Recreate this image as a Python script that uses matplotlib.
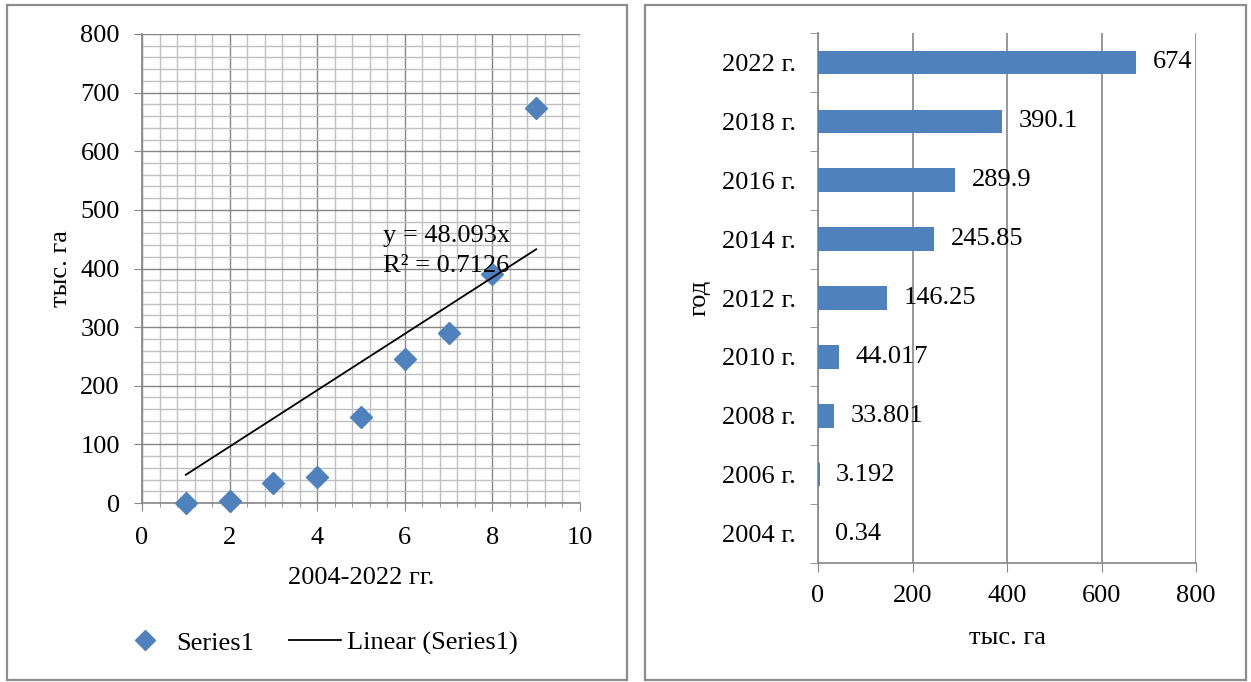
"""Two-panel chart: scatter with linear trend and horizontal bar chart."""

import matplotlib

matplotlib.use("Agg")
import matplotlib.pyplot as plt
from matplotlib.lines import Line2D
from matplotlib.patches import Rectangle
from matplotlib.ticker import MultipleLocator

# data
period_index = [1, 2, 3, 4, 5, 6, 7, 8, 9]
area = [0.34, 3.192, 33.801, 44.017, 146.25, 245.85, 289.9, 390.1, 674]
year_labels = ["2004 г.", "2006 г.", "2008 г.", "2010 г.", "2012 г.",
               "2014 г.", "2016 г.", "2018 г.", "2022 г."]
value_labels = ["0.34", "3.192", "33.801", "44.017", "146.25",
                "245.85", "289.9", "390.1", "674"]
trend_slope = 48.093
trend_r2 = 0.7126

BLUE = "#4F81BD"
MAJOR_GRID = "#868686"
MINOR_GRID = "#BFBFBF"
BORDER = "#8C8C8C"
FS = 19

plt.rcParams["font.family"] = ["Liberation Serif", "DejaVu Serif"]
plt.rcParams["font.size"] = FS

W, H = 1251, 682
fig = plt.figure(figsize=(W / 100, H / 100), dpi=100)


def fx(px):
    return px / W


def fy(py):
    return 1 - py / H


# panel borders
for x0, x1 in [(7, 627), (645, 1246)]:
    fig.patches.append(Rectangle((fx(x0), fy(680)), fx(x1 - x0), (680 - 5) / H,
                                 transform=fig.transFigure, fill=False,
                                 edgecolor=BORDER, linewidth=1.6))

# ---- left panel: scatter + trend ----
ax1 = fig.add_axes([fx(142), fy(503), fx(580 - 142), (503 - 34) / H])
ax1.set_xlim(0, 10)
ax1.set_ylim(0, 800)
ax1.xaxis.set_major_locator(MultipleLocator(2))
ax1.xaxis.set_minor_locator(MultipleLocator(0.4))
ax1.yaxis.set_major_locator(MultipleLocator(100))
ax1.yaxis.set_minor_locator(MultipleLocator(20))
ax1.grid(which="minor", color=MINOR_GRID, linewidth=1.0)
ax1.grid(which="major", color=MAJOR_GRID, linewidth=1.0)
ax1.set_axisbelow(True)
for side in ["top", "right"]:
    ax1.spines[side].set_visible(False)
for side in ["left", "bottom"]:
    ax1.spines[side].set_color(MAJOR_GRID)
    ax1.spines[side].set_linewidth(1.2)
ax1.tick_params(which="major", axis="x", length=5.5, color=MAJOR_GRID, pad=12)
ax1.tick_params(which="minor", axis="x", length=3, color=MAJOR_GRID)
ax1.tick_params(which="major", axis="y", length=6, color=MAJOR_GRID, pad=10)
ax1.tick_params(which="minor", axis="y", length=0)

ax1.plot(period_index, area, linestyle="none", marker="D", markersize=11,
         color=BLUE, zorder=3, clip_on=False)
trend_x = [period_index[0], period_index[-1]]
trend_y = [trend_slope * v for v in trend_x]
ax1.plot(trend_x, trend_y, color="black", linewidth=1.3, zorder=4)
ax1.text(5.5, 474, f"y = {trend_slope}x\nR² = {trend_r2}", va="top", ha="left",
         fontsize=FS, linespacing=1.45, zorder=5)

ax1.set_xlabel("2004-2022 гг.", labelpad=13)
ax1.set_ylabel("тыс. га", labelpad=6)

handles = [
    Line2D([], [], linestyle="none", marker="D", markersize=10, color=BLUE),
    Line2D([], [], color="black", linewidth=1.3),
]
fig.legend(handles, ["Series1", "Linear (Series1)"], loc="center",
           bbox_to_anchor=(fx(318), fy(643)), ncol=2, frameon=False,
           handlelength=2.0, columnspacing=1.3, handletextpad=0.2,
           borderpad=0, borderaxespad=0)

# ---- right panel: horizontal bars ----
ax2 = fig.add_axes([fx(818), fy(563), fx(1196 - 818), (563 - 33) / H])
pos = list(range(len(year_labels)))
bars = ax2.barh(pos, area, height=0.4, color=BLUE, zorder=3)
ax2.set_xlim(0, 800)
ax2.set_ylim(-0.5, len(year_labels) - 0.5)
ax2.xaxis.set_major_locator(MultipleLocator(200))
ax2.set_yticks(pos)
ax2.set_yticklabels(year_labels)
ax2.set_yticks([p - 0.5 for p in pos] + [len(pos) - 0.5], minor=True)
ax2.grid(axis="x", color=MAJOR_GRID, linewidth=1.2)
ax2.set_axisbelow(True)
for side in ["top", "right"]:
    ax2.spines[side].set_visible(False)
for side in ["left", "bottom"]:
    ax2.spines[side].set_color(MAJOR_GRID)
    ax2.spines[side].set_linewidth(1.2)
ax2.tick_params(axis="y", which="major", length=0, pad=16)
ax2.tick_params(axis="y", which="minor", length=6, color=MAJOR_GRID)
ax2.tick_params(axis="x", which="major", length=6.5, color=MAJOR_GRID, pad=9.5)
ax2.bar_label(bars, labels=value_labels, padding=12, fontsize=FS)

ax2.set_xlabel("тыс. га", labelpad=14)
ax2.set_ylabel("год", labelpad=8)

fig.savefig("out.png", dpi=100)
